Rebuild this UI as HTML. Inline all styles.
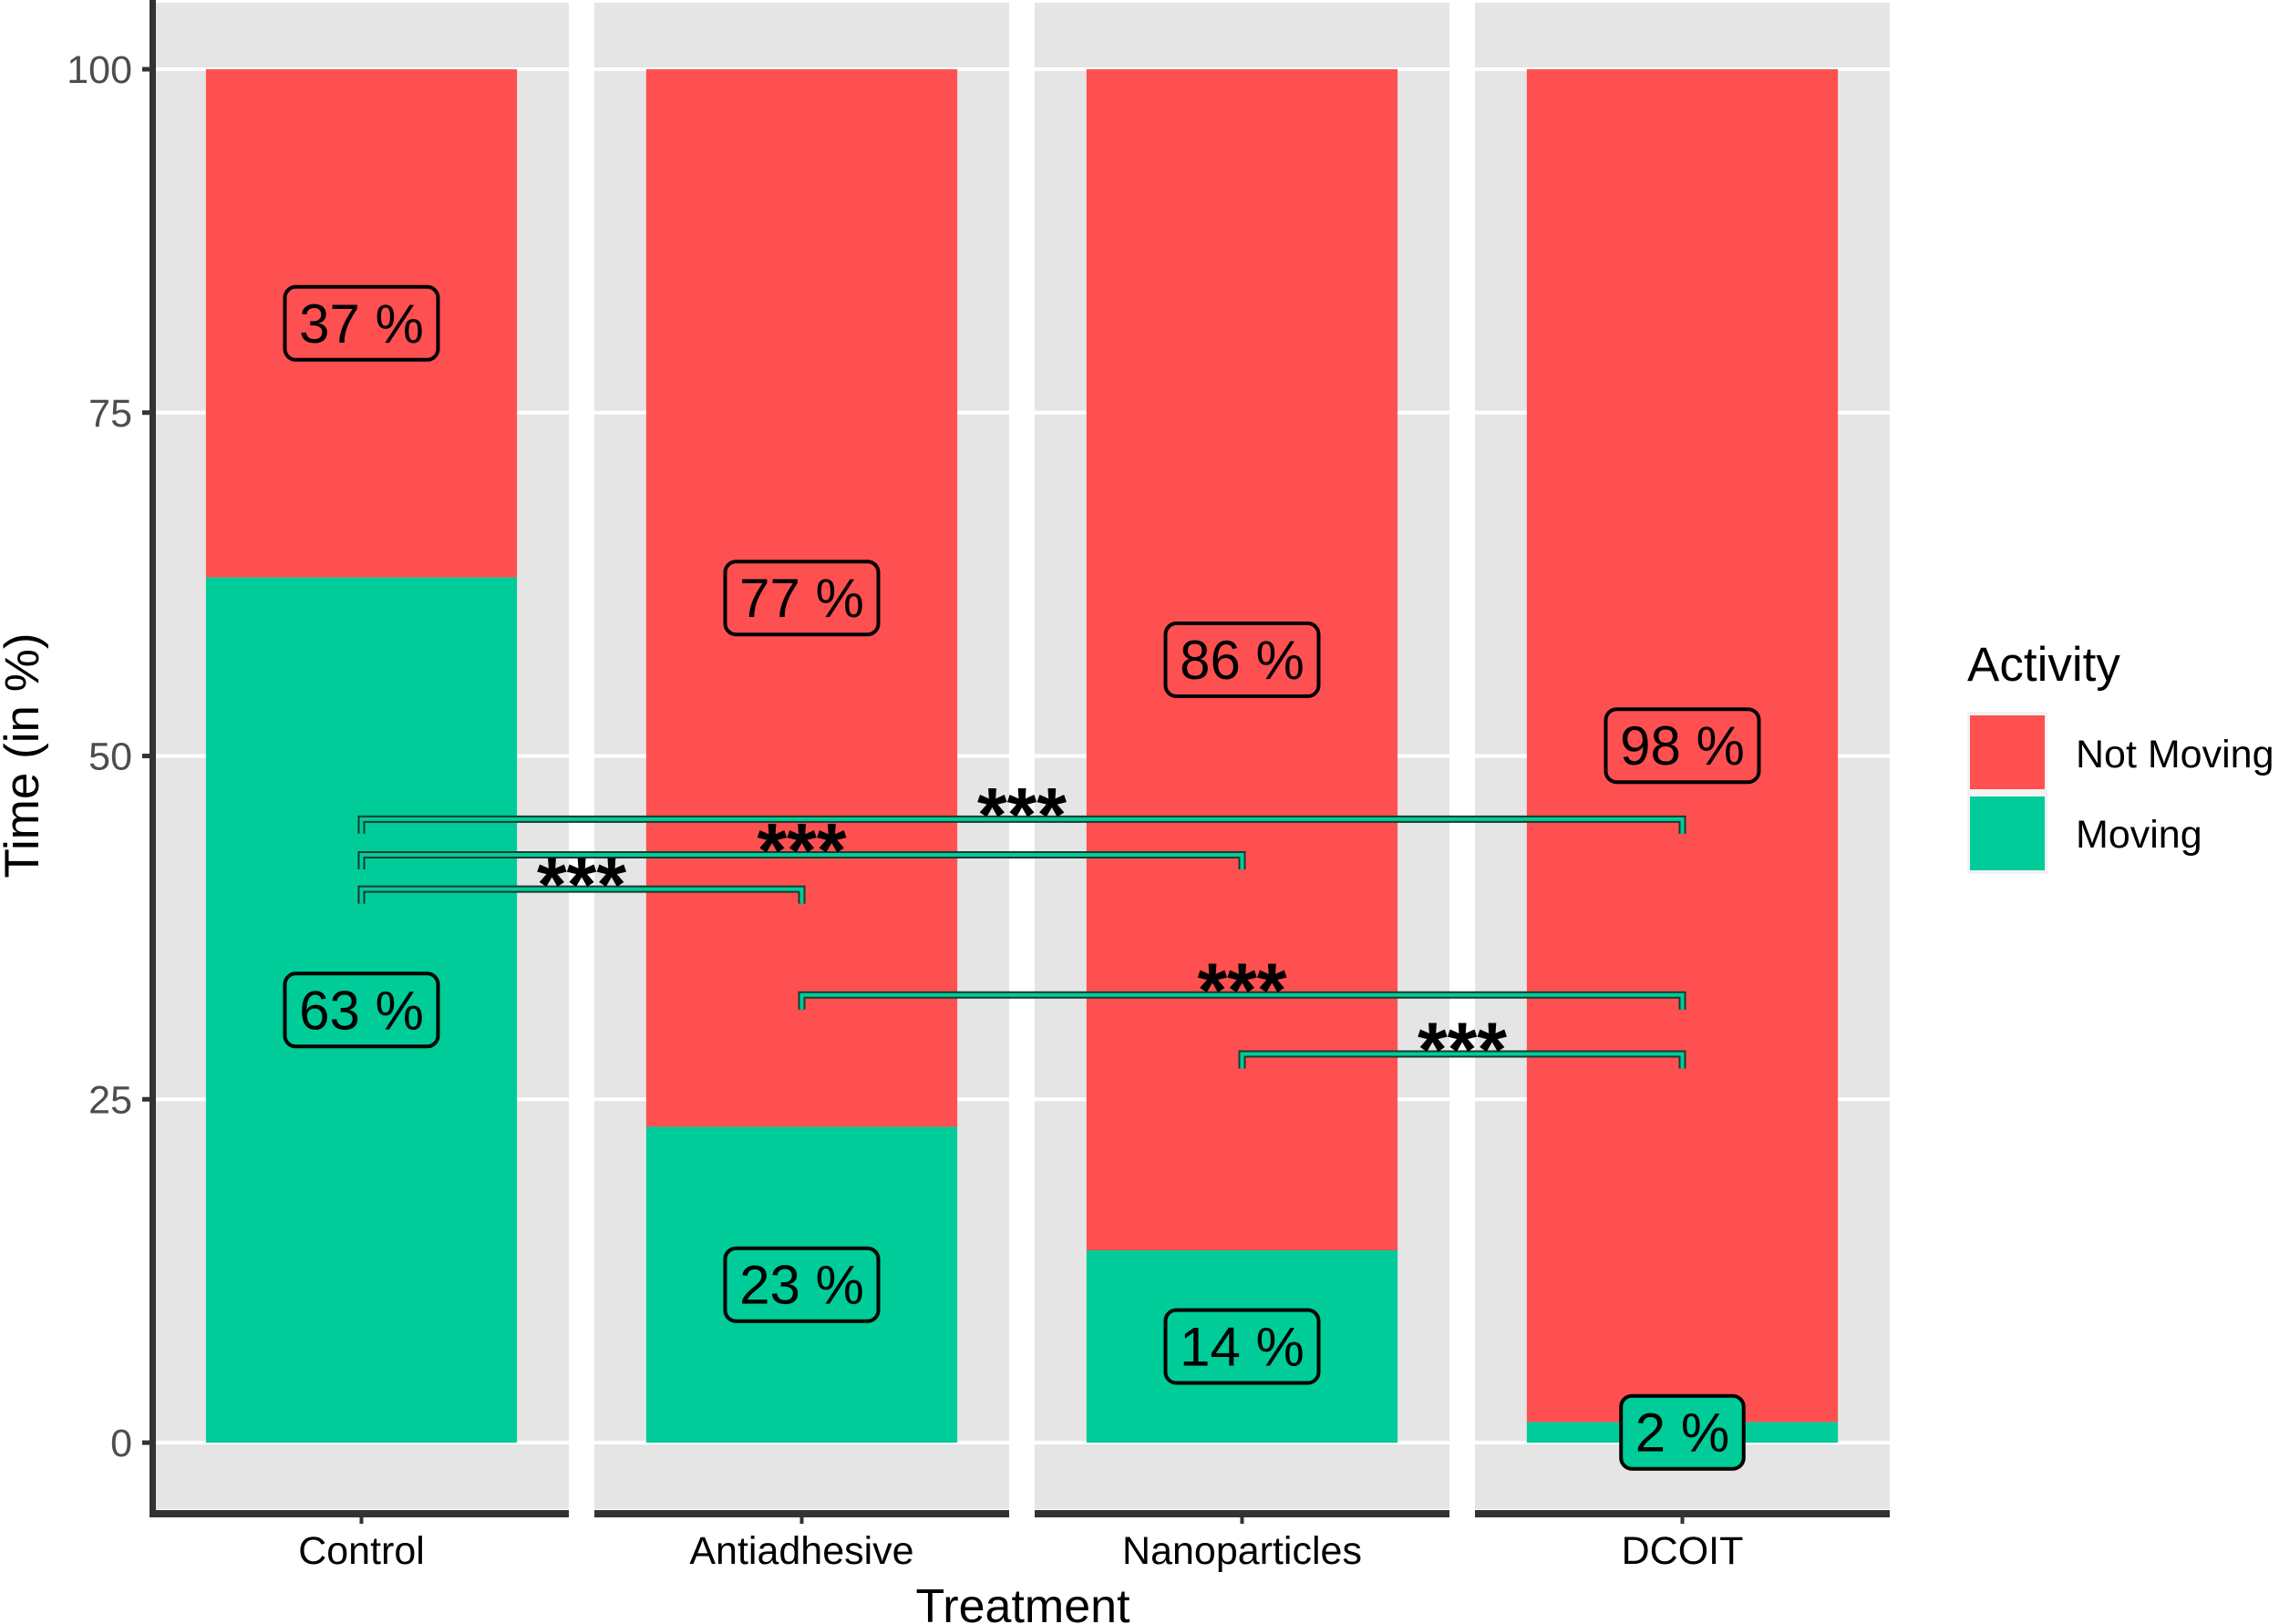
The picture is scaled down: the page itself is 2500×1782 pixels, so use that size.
<!DOCTYPE html>
<html><head><meta charset="utf-8"><style>
html,body{margin:0;padding:0;background:#fff;}
svg{display:block;font-family:"Liberation Sans",Arial,sans-serif;}
</style></head><body>
<svg id="chart" width="2500" height="1782" viewBox="0 0 2500 1782">
<g id="panels"></g>
<g id="brackets"></g>
<g id="labels"></g>
<g id="axes"></g>
<text x="1122" y="1780" font-size="52" text-anchor="middle" fill="#000">Treatment</text>
<text transform="translate(42,829) rotate(-90)" font-size="53" text-anchor="middle" fill="#000">Time (in %)</text>
<g>
<text x="2158" y="747" font-size="53" fill="#000">Activity</text>
<rect x="2158" y="781" width="88" height="178" fill="#f2f2f2"/>
<rect x="2161" y="785" width="82" height="81" fill="#fe5050"/>
<rect x="2161" y="874" width="82" height="81" fill="#00cc99"/>
<text x="2277" y="842" font-size="43" fill="#000">Not Moving</text>
<text x="2277" y="930" font-size="43" fill="#000">Moving</text>
</g>
</svg>
<script>
const categories = ["Control","Antiadhesive","Nanoparticles","DCOIT"];
const moving = [63, 23, 14, 1.5];
const notMoving = [37, 77, 86, 98.5];
const movingLabels = ["63 %","23 %","14 %","2 %"];
const notMovingLabels = ["37 %","77 %","86 %","98 %"];
const yTicks = [0, 25, 50, 75, 100];
const sigFrom = [0, 0, 0, 1, 2];
const sigTo = [3, 2, 1, 3, 3];
const sigY = [45.4, 42.8, 40.3, 32.6, 28.3];
const sigText = ["***","***","***","***","***"];

const NS = "http://www.w3.org/2000/svg";
const panelX0 = [169, 652, 1135, 1618];
const panelW = 455, panelTop = 3, panelBot = 1656;
function yScale(v){ return 1583 - v * 15.07; }
function xCenter(i){ return panelX0[i] + panelW/2; }
const barW = panelW * 0.75;
function mk(tag, attrs, parent){
  const e = document.createElementNS(NS, tag);
  for (const k in attrs) e.setAttribute(k, attrs[k]);
  parent.appendChild(e);
  return e;
}
const gP = document.getElementById("panels");
const gB = document.getElementById("brackets");
const gL = document.getElementById("labels");
const gA = document.getElementById("axes");

categories.forEach((c, i) => {
  const bg = mk("rect", {x: panelX0[i], y: panelTop, width: panelW, height: panelBot - panelTop, fill: "#e5e5e5"}, gP);
  
  
  yTicks.forEach(t => {
    const gl = mk("line", {x1: panelX0[i], x2: panelX0[i] + panelW, y1: yScale(t), y2: yScale(t), stroke: "#fff", "stroke-width": 4}, gP);
    
    
  });
  const cx = xCenter(i);
  const gBar = mk("rect", {x: cx - barW/2, y: yScale(moving[i]), width: barW, height: yScale(0) - yScale(moving[i]), fill: "#00cc99"}, gP);
  
  
  const rBar = mk("rect", {x: cx - barW/2, y: yScale(moving[i] + notMoving[i]), width: barW, height: yScale(moving[i]) - yScale(moving[i] + notMoving[i]), fill: "#fe5050"}, gP);
  
  

  [[moving[i]/2, movingLabels[i], "#00cc99", "moving"], [moving[i] + notMoving[i]/2, notMovingLabels[i], "#fe5050", "not-moving"]].forEach(([v, txt, col, nm]) => {
    let cy = yScale(v);
    if (cy > 1572) cy = 1572;
    const w = txt.length * 33.5 + 34, h = 80;
    const box = mk("rect", {x: cx - w/2, y: cy - h/2, width: w, height: h, rx: 12, fill: col, stroke: "#000", "stroke-width": 4}, gL);
    
    
    const t = mk("text", {x: cx, y: cy + 21, "font-size": 60, "text-anchor": "middle", fill: "#000"}, gL);
    t.textContent = txt;
    
    
  });

  const ax = mk("rect", {x: panelX0[i], y: 1657, width: panelW, height: 8, fill: "#333"}, gA);
  
  
  const tk = mk("line", {x1: cx, x2: cx, y1: 1665, y2: 1672, stroke: "#333", "stroke-width": 4}, gA);
  
  
  const xl = mk("text", {x: cx, y: 1716, "font-size": 43, "text-anchor": "middle", fill: "#000"}, gA);
  xl.textContent = c;
  
  
});

const yl = mk("rect", {x: 164, y: 0, width: 7, height: 1665, fill: "#333"}, gA);


yTicks.forEach(t => {
  const tk = mk("line", {x1: 156, x2: 166, y1: yScale(t), y2: yScale(t), stroke: "#333", "stroke-width": 5}, gA);
  
  
  const lb = mk("text", {x: 145, y: yScale(t) + 15, "font-size": 43, "text-anchor": "end", fill: "#4d4d4d"}, gA);
  lb.textContent = String(t);
  
  
});

sigY.forEach((v, k) => {
  const x1 = xCenter(sigFrom[k]), x2 = xCenter(sigTo[k]), y = yScale(v);
  const d = `M${x1},${y+16} L${x1},${y} L${x2},${y} L${x2},${y+16}`;
  const o = mk("path", {d: d, fill: "none", stroke: "#1a3a30", "stroke-width": 8}, gB);
  
  
  const p = mk("path", {d: d, fill: "none", stroke: "#00cc99", "stroke-width": 4}, gB);
  
  
  const s = mk("text", {x: (x1 + x2)/2, y: y + 24, "font-size": 84, "font-weight": "bold", "text-anchor": "middle", fill: "#000"}, gB);
  s.textContent = sigText[k];
  
  
});
</script>
</body></html>
